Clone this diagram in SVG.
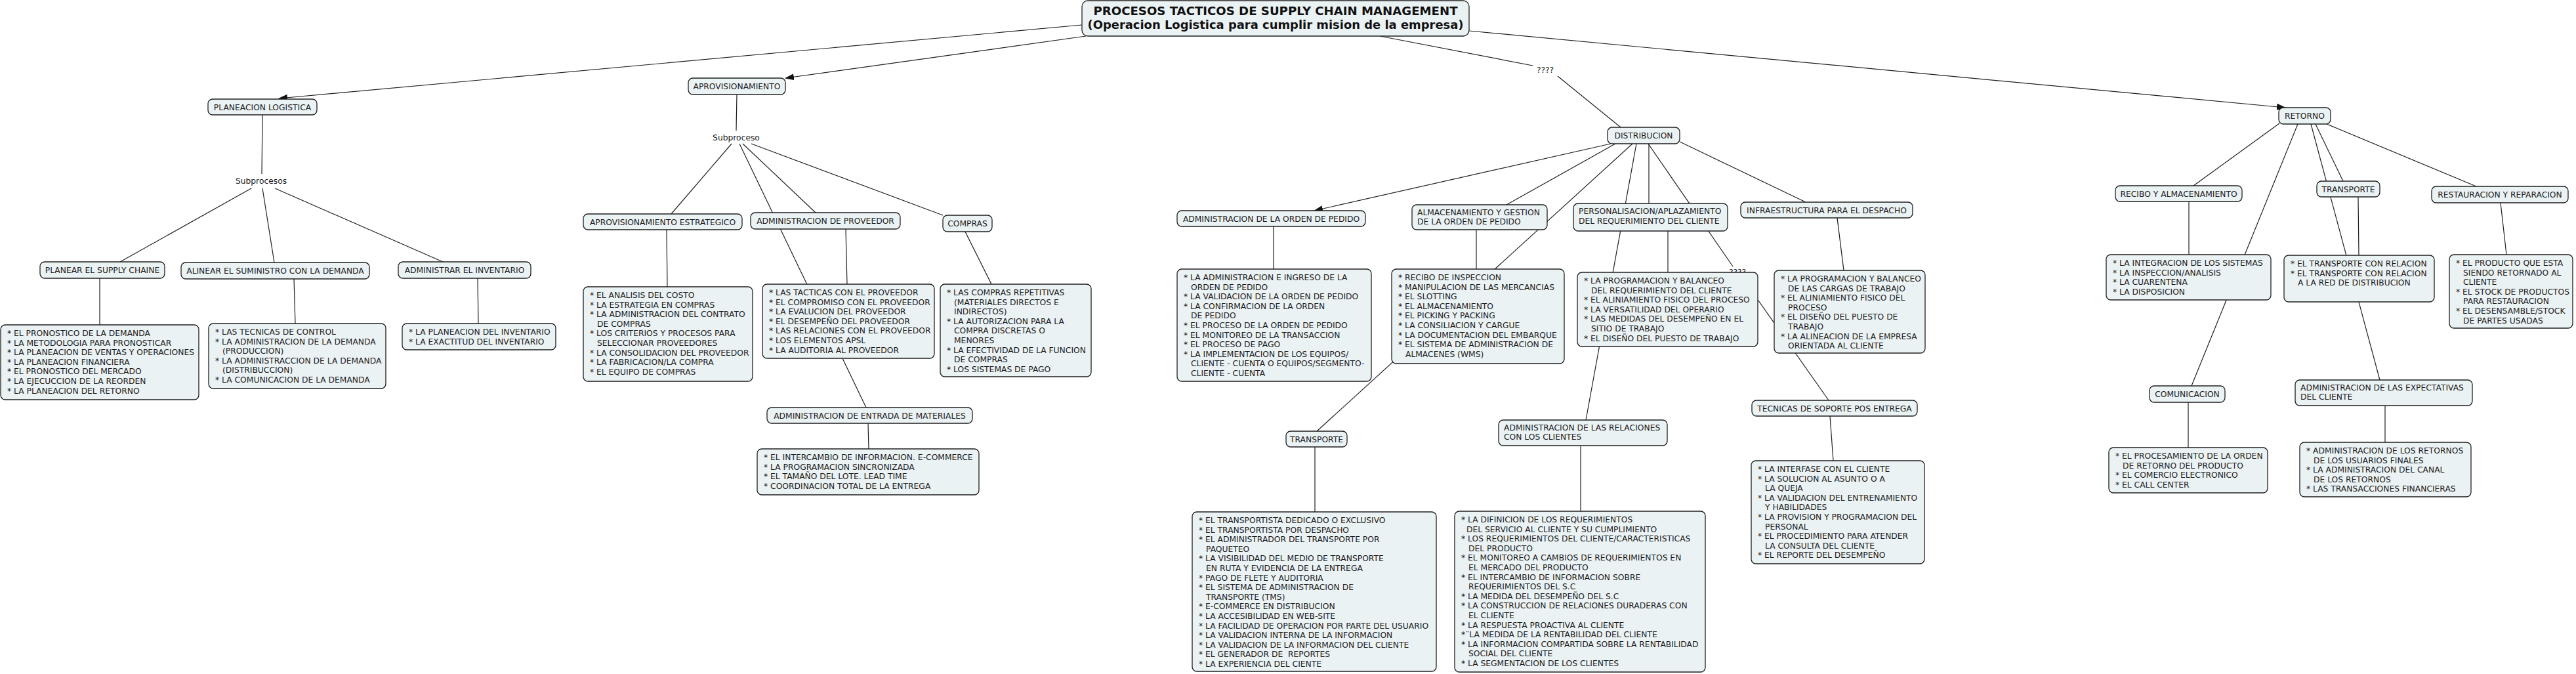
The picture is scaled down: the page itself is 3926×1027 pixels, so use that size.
<svg xmlns="http://www.w3.org/2000/svg" width="3926" height="1027" viewBox="0 0 3926 1027">
<defs>
<style>
.n{fill:#ebf2f4;stroke:#1f1f1f;stroke-width:1.3}
.t{font-family:"DejaVu Sans",Verdana,sans-serif;font-size:12.3px;fill:#1b1b1b}
.c{text-anchor:middle}
.l line{stroke:#1f1f1f;stroke-width:1.2;fill:none}
.h{font-family:"DejaVu Sans",Verdana,sans-serif;font-size:17px;font-weight:bold;fill:#111;text-anchor:middle}
</style>
<marker id="ar" markerWidth="14" markerHeight="10" refX="13" refY="5" orient="auto" markerUnits="userSpaceOnUse"><path d="M0,0 L14,5 L0,10 z" fill="#111"/></marker>
</defs>
<rect width="3926" height="1027" fill="#fff"/>

<g id="connectors" class="l">
<line x1="1649" y1="38" x2="425" y2="150" marker-end="url(#ar)"/>
<line x1="1655" y1="55" x2="1197" y2="119" marker-end="url(#ar)"/>
<line x1="2103" y1="55" x2="2336" y2="100"/>
<line x1="2374" y1="116" x2="2470" y2="194"/>
<line x1="2239" y1="47" x2="3483" y2="164" marker-end="url(#ar)"/>
<line x1="400" y1="175" x2="399" y2="265"/>
<line x1="383" y1="287" x2="183" y2="399"/>
<line x1="400" y1="287" x2="418" y2="400"/>
<line x1="419" y1="287" x2="675" y2="399"/>
<line x1="152" y1="424" x2="152" y2="495"/>
<line x1="448" y1="425" x2="450" y2="493"/>
<line x1="728" y1="424" x2="729" y2="493"/>
<line x1="1123" y1="144" x2="1122" y2="199"/>
<line x1="1115" y1="219" x2="1023" y2="326"/>
<line x1="1127" y1="219" x2="1320" y2="621"/>
<line x1="1132" y1="219" x2="1243" y2="324"/>
<line x1="1145" y1="219" x2="1437" y2="328"/>
<line x1="1016" y1="350" x2="1017" y2="437"/>
<line x1="1289" y1="349" x2="1291" y2="433"/>
<line x1="1471" y1="353" x2="1511" y2="433"/>
<line x1="1323" y1="645" x2="1324" y2="684"/>
<line x1="2455" y1="219" x2="2003" y2="321" marker-end="url(#ar)"/>
<line x1="2462" y1="219" x2="2296" y2="312"/>
<line x1="2488" y1="219" x2="2007" y2="657"/>
<line x1="2494" y1="219" x2="2417" y2="640"/>
<line x1="2513" y1="219" x2="2513" y2="310"/>
<line x1="2512" y1="219" x2="2641" y2="406"/>
<line x1="2656" y1="424" x2="2787" y2="610"/>
<line x1="2560" y1="216" x2="2752" y2="308"/>
<line x1="1941" y1="345" x2="1941" y2="410"/>
<line x1="2250" y1="350" x2="2250" y2="410"/>
<line x1="2542" y1="352" x2="2542" y2="415"/>
<line x1="2800" y1="332" x2="2810" y2="412"/>
<line x1="2004" y1="681" x2="2004" y2="780"/>
<line x1="2409" y1="679" x2="2409" y2="779"/>
<line x1="2789" y1="634" x2="2794" y2="702"/>
<line x1="3474" y1="188" x2="3343" y2="283"/>
<line x1="3502" y1="189" x2="3340" y2="588"/>
<line x1="3522" y1="189" x2="3627" y2="579"/>
<line x1="3529" y1="189" x2="3571" y2="276"/>
<line x1="3546" y1="189" x2="3774" y2="284"/>
<line x1="3336" y1="307" x2="3336" y2="388"/>
<line x1="3594" y1="300" x2="3595" y2="389"/>
<line x1="3811" y1="309" x2="3820" y2="388"/>
<line x1="3335" y1="613" x2="3335" y2="682"/>
<line x1="3635" y1="618" x2="3635" y2="674"/>
</g>

<g id="labels">
<text id="lbl-subprocesos" class="t c" x="398" y="280">Subprocesos</text>
<text id="lbl-subproceso" class="t c" x="1122" y="214">Subproceso</text>
<text id="lbl-q1" class="t c" x="2355" y="111">????</text>
<text id="lbl-q2" class="t c" x="2648" y="419">????</text>
</g>

<g id="n-title"><rect class="n" x="1649" y="1" width="590" height="54" rx="9"/>
<text class="h" x="1944" y="23" textLength="555" lengthAdjust="spacingAndGlyphs">PROCESOS TACTICOS DE SUPPLY CHAIN MANAGEMENT</text>
<text class="h" x="1944" y="44" textLength="573" lengthAdjust="spacingAndGlyphs">(Operacion Logistica para cumplir mision de la empresa)</text></g>

<g id="n-planeacion"><rect class="n" x="317" y="151" width="166" height="24" rx="7"/><text class="t c" x="400" y="168">PLANEACION LOGISTICA</text></g>
<g id="n-planear"><rect class="n" x="61" y="399" width="190" height="25" rx="7"/><text class="t c" x="156" y="416">PLANEAR EL SUPPLY CHAINE</text></g>
<g id="n-alinear"><rect class="n" x="276" y="400" width="287" height="25" rx="7"/><text class="t c" x="419.5" y="417">ALINEAR EL SUMINISTRO CON LA DEMANDA</text></g>
<g id="n-administrar"><rect class="n" x="607" y="399" width="202" height="25" rx="7"/><text class="t c" x="708" y="416">ADMINISTRAR EL INVENTARIO</text></g>
<g id="n-planear-items"><rect class="n" x="1" y="495" width="302" height="114" rx="7"/><text class="t" y="512"><tspan x="11">* EL PRONOSTICO DE LA DEMANDA</tspan><tspan x="11" dy="14.6">* LA METODOLOGIA PARA PRONOSTICAR</tspan><tspan x="11" dy="14.6">* LA PLANEACION DE VENTAS Y OPERACIONES</tspan><tspan x="11" dy="14.6">* LA PLANEACION FINANCIERA</tspan><tspan x="11" dy="14.6">* EL PRONOSTICO DEL MERCADO</tspan><tspan x="11" dy="14.6">* LA EJECUCCION DE LA REORDEN</tspan><tspan x="11" dy="14.6">* LA PLANEACION DEL RETORNO</tspan></text></g>
<g id="n-alinear-items"><rect class="n" x="318" y="493" width="270" height="99" rx="7"/><text class="t" y="510"><tspan x="328">* LAS TECNICAS DE CONTROL</tspan><tspan x="328" dy="14.6">* LA ADMINISTRACION DE LA DEMANDA</tspan><tspan x="339" dy="14.6">(PRODUCCION)</tspan><tspan x="328" dy="14.6">* LA ADMINISTRACCION DE LA DEMANDA</tspan><tspan x="339" dy="14.6">(DISTRIBUCCION)</tspan><tspan x="328" dy="14.6">* LA COMUNICACION DE LA DEMANDA</tspan></text></g>
<g id="n-administrar-items"><rect class="n" x="613" y="493" width="234" height="40" rx="7"/><text class="t" y="510"><tspan x="623">* LA PLANEACION DEL INVENTARIO</tspan><tspan x="623" dy="14.6">* LA EXACTITUD DEL INVENTARIO</tspan></text></g>

<g id="n-aprovisionamiento"><rect class="n" x="1049" y="119" width="148" height="25" rx="7"/><text class="t c" x="1123" y="136">APROVISIONAMIENTO</text></g>
<g id="n-aprov-est"><rect class="n" x="889" y="326" width="242" height="24" rx="7"/><text class="t c" x="1010" y="343">APROVISIONAMIENTO ESTRATEGICO</text></g>
<g id="n-admin-prov"><rect class="n" x="1144" y="324" width="228" height="25" rx="7"/><text class="t c" x="1258" y="341">ADMINISTRACION DE PROVEEDOR</text></g>
<g id="n-compras"><rect class="n" x="1437" y="328" width="75" height="25" rx="7"/><text class="t c" x="1474.5" y="345">COMPRAS</text></g>
<g id="n-aprov-est-items"><rect class="n" x="889" y="437" width="258" height="144" rx="7"/><text class="t" y="454"><tspan x="899">* EL ANALISIS DEL COSTO</tspan><tspan x="899" dy="14.6">* LA ESTRATEGIA EN COMPRAS</tspan><tspan x="899" dy="14.6">* LA ADMINISTRACION DEL CONTRATO</tspan><tspan x="910" dy="14.6">DE COMPRAS</tspan><tspan x="899" dy="14.6">* LOS CRITERIOS Y PROCESOS PARA</tspan><tspan x="910" dy="14.6">SELECCIONAR PROVEEDORES</tspan><tspan x="899" dy="14.6">* LA CONSOLIDACION DEL PROVEEDOR</tspan><tspan x="899" dy="14.6">* LA FABRICACION/LA COMPRA</tspan><tspan x="899" dy="14.6">* EL EQUIPO DE COMPRAS</tspan></text></g>
<g id="n-admin-prov-items"><rect class="n" x="1162" y="433" width="262" height="113" rx="7"/><text class="t" y="450"><tspan x="1172">* LAS TACTICAS CON EL PROVEEDOR</tspan><tspan x="1172" dy="14.6">* EL COMPROMISO CON EL PROVEEDOR</tspan><tspan x="1172" dy="14.6">* LA EVALUCION DEL PROVEEDOR</tspan><tspan x="1172" dy="14.6">* EL DESEMPEÑO DEL PROVEEDOR</tspan><tspan x="1172" dy="14.6">* LAS RELACIONES CON EL PROVEEDOR</tspan><tspan x="1172" dy="14.6">* LOS ELEMENTOS APSL</tspan><tspan x="1172" dy="14.6">* LA AUDITORIA AL PROVEEDOR</tspan></text></g>
<g id="n-compras-items"><rect class="n" x="1433" y="433" width="230" height="141" rx="7"/><text class="t" y="450"><tspan x="1443">* LAS COMPRAS REPETITIVAS</tspan><tspan x="1454" dy="14.6">(MATERIALES DIRECTOS E</tspan><tspan x="1454" dy="14.6">INDIRECTOS)</tspan><tspan x="1443" dy="14.6">* LA AUTORIZACION PARA LA</tspan><tspan x="1454" dy="14.6">COMPRA DISCRETAS O</tspan><tspan x="1454" dy="14.6">MENORES</tspan><tspan x="1443" dy="14.6">* LA EFECTIVIDAD DE LA FUNCION</tspan><tspan x="1454" dy="14.6">DE COMPRAS</tspan><tspan x="1443" dy="14.6">* LOS SISTEMAS DE PAGO</tspan></text></g>
<g id="n-entrada"><rect class="n" x="1169" y="621" width="313" height="24" rx="7"/><text class="t c" x="1325.5" y="638">ADMINISTRACION DE ENTRADA DE MATERIALES</text></g>
<g id="n-entrada-items"><rect class="n" x="1154" y="684" width="338" height="70" rx="7"/><text class="t" y="701"><tspan x="1164">* EL INTERCAMBIO DE INFORMACION. E-COMMERCE</tspan><tspan x="1164" dy="14.6">* LA PROGRAMACION SINCRONIZADA</tspan><tspan x="1164" dy="14.6">* EL TAMAÑO DEL LOTE. LEAD TIME</tspan><tspan x="1164" dy="14.6">* COORDINACION TOTAL DE LA ENTREGA</tspan></text></g>

<g id="n-distribucion"><rect class="n" x="2450" y="194" width="110" height="25" rx="7"/><text class="t c" x="2505" y="211">DISTRIBUCION</text></g>
<g id="n-admin-orden"><rect class="n" x="1794" y="321" width="287" height="24" rx="7"/><text class="t c" x="1937.5" y="338">ADMINISTRACION DE LA ORDEN DE PEDIDO</text></g>
<g id="n-almacen"><rect class="n" x="2152" y="312" width="206" height="38" rx="7"/><text class="t" x="2160" y="328">ALMACENAMIENTO Y GESTION<tspan x="2160" dy="14.3">DE LA ORDEN DE PEDIDO</tspan></text></g>
<g id="n-personal"><rect class="n" x="2398" y="310" width="235" height="42" rx="7"/><text class="t" x="2406" y="326">PERSONALISACION/APLAZAMIENTO<tspan x="2406" dy="14.6">DEL REQUERIMIENTO DEL CLIENTE</tspan></text></g>
<g id="n-infra"><rect class="n" x="2653" y="308" width="262" height="24" rx="7"/><text class="t c" x="2784" y="325">INFRAESTRUCTURA PARA EL DESPACHO</text></g>
<g id="n-orden-items"><rect class="n" x="1794" y="410" width="296" height="171" rx="7"/><text class="t" y="427"><tspan x="1804">* LA ADMINISTRACION E INGRESO DE LA</tspan><tspan x="1815" dy="14.6">ORDEN DE PEDIDO</tspan><tspan x="1804" dy="14.6">* LA VALIDACION DE LA ORDEN DE PEDIDO</tspan><tspan x="1804" dy="14.6">* LA CONFIRMACION DE LA ORDEN</tspan><tspan x="1815" dy="14.6">DE PEDIDO</tspan><tspan x="1804" dy="14.6">* EL PROCESO DE LA ORDEN DE PEDIDO</tspan><tspan x="1804" dy="14.6">* EL MONITOREO DE LA TRANSACCION</tspan><tspan x="1804" dy="14.6">* EL PROCESO DE PAGO</tspan><tspan x="1804" dy="14.6">* LA IMPLEMENTACION DE LOS EQUIPOS/</tspan><tspan x="1815" dy="14.6">CLIENTE - CUENTA O EQUIPOS/SEGMENTO-</tspan><tspan x="1815" dy="14.6">CLIENTE - CUENTA</tspan></text></g>
<g id="n-recibo-items"><rect class="n" x="2121" y="410" width="263" height="144" rx="7"/><text class="t" y="427"><tspan x="2131">* RECIBO DE INSPECCION</tspan><tspan x="2131" dy="14.6">* MANIPULACION DE LAS MERCANCIAS</tspan><tspan x="2131" dy="14.6">* EL SLOTTING</tspan><tspan x="2131" dy="14.6">* EL ALMACENAMIENTO</tspan><tspan x="2131" dy="14.6">* EL PICKING Y PACKING</tspan><tspan x="2131" dy="14.6">* LA CONSILIACION Y CARGUE</tspan><tspan x="2131" dy="14.6">* LA DOCUMENTACION DEL EMBARQUE</tspan><tspan x="2131" dy="14.6">* EL SISTEMA DE ADMINISTRACION DE</tspan><tspan x="2142" dy="14.6">ALMACENES (WMS)</tspan></text></g>
<g id="n-personal-items"><rect class="n" x="2404" y="415" width="275" height="113" rx="7"/><text class="t" y="432"><tspan x="2414">* LA PROGRAMACION Y BALANCEO</tspan><tspan x="2425" dy="14.6">DEL REQUERIMIENTO DEL CLIENTE</tspan><tspan x="2414" dy="14.6">* EL ALINIAMIENTO FISICO DEL PROCESO</tspan><tspan x="2414" dy="14.6">* LA VERSATILIDAD DEL OPERARIO</tspan><tspan x="2414" dy="14.6">* LAS MEDIDAS DEL DESEMPEÑO EN EL</tspan><tspan x="2425" dy="14.6">SITIO DE TRABAJO</tspan><tspan x="2414" dy="14.6">* EL DISEÑO DEL PUESTO DE TRABAJO</tspan></text></g>
<g id="n-infra-items"><rect class="n" x="2704" y="412" width="230" height="126" rx="7"/><text class="t" y="429"><tspan x="2714">* LA PROGRAMACION Y BALANCEO</tspan><tspan x="2725" dy="14.6">DE LAS CARGAS DE TRABAJO</tspan><tspan x="2714" dy="14.6">* EL ALINIAMIENTO FISICO DEL</tspan><tspan x="2725" dy="14.6">PROCESO</tspan><tspan x="2714" dy="14.6">* EL DISEÑO DEL PUESTO DE</tspan><tspan x="2725" dy="14.6">TRABAJO</tspan><tspan x="2714" dy="14.6">* LA ALINEACION DE LA EMPRESA</tspan><tspan x="2725" dy="14.6">ORIENTADA AL CLIENTE</tspan></text></g>
<g id="n-transporte-d"><rect class="n" x="1960" y="657" width="93" height="24" rx="7"/><text class="t c" x="2006.5" y="674">TRANSPORTE</text></g>
<g id="n-admin-rel"><rect class="n" x="2284" y="640" width="257" height="39" rx="7"/><text class="t" x="2292" y="656">ADMINISTRACION DE LAS RELACIONES<tspan x="2292" dy="14.3">CON LOS CLIENTES</tspan></text></g>
<g id="n-tecnicas"><rect class="n" x="2670" y="610" width="252" height="24" rx="7"/><text class="t c" x="2796" y="627">TECNICAS DE SOPORTE POS ENTREGA</text></g>
<g id="n-transporte-d-items"><rect class="n" x="1817" y="780" width="372" height="243" rx="7"/><text class="t" y="797"><tspan x="1827">* EL TRANSPORTISTA DEDICADO O EXCLUSIVO</tspan><tspan x="1827" dy="14.6">* EL TRANSPORTISTA POR DESPACHO</tspan><tspan x="1827" dy="14.6">* EL ADMINISTRADOR DEL TRANSPORTE POR</tspan><tspan x="1838" dy="14.6">PAQUETEO</tspan><tspan x="1827" dy="14.6">* LA VISIBILIDAD DEL MEDIO DE TRANSPORTE</tspan><tspan x="1838" dy="14.6">EN RUTA Y EVIDENCIA DE LA ENTREGA</tspan><tspan x="1827" dy="14.6">* PAGO DE FLETE Y AUDITORIA</tspan><tspan x="1827" dy="14.6">* EL SISTEMA DE ADMINISTRACION DE</tspan><tspan x="1838" dy="14.6">TRANSPORTE (TMS)</tspan><tspan x="1827" dy="14.6">* E-COMMERCE EN DISTRIBUCION</tspan><tspan x="1827" dy="14.6">* LA ACCESIBILIDAD EN WEB-SITE</tspan><tspan x="1827" dy="14.6">* LA FACILIDAD DE OPERACION POR PARTE DEL USUARIO</tspan><tspan x="1827" dy="14.6">* LA VALIDACION INTERNA DE LA INFORMACION</tspan><tspan x="1827" dy="14.6">* LA VALIDACION DE LA INFORMACION DEL CLIENTE</tspan><tspan x="1827" dy="14.6">* EL GENERADOR DE&#160; REPORTES</tspan><tspan x="1827" dy="14.6">* LA EXPERIENCIA DEL CIENTE</tspan></text></g>
<g id="n-admin-rel-items"><rect class="n" x="2217" y="779" width="382" height="245" rx="7"/><text class="t" y="796"><tspan x="2227">* LA DIFINICION DE LOS REQUERIMIENTOS</tspan><tspan x="2235" dy="14.6">DEL SERVICIO AL CLIENTE Y SU CUMPLIMIENTO</tspan><tspan x="2227" dy="14.6">* LOS REQUERIMIENTOS DEL CLIENTE/CARACTERISTICAS</tspan><tspan x="2238" dy="14.6">DEL PRODUCTO</tspan><tspan x="2227" dy="14.6">* EL MONITOREO A CAMBIOS DE REQUERIMIENTOS EN</tspan><tspan x="2238" dy="14.6">EL MERCADO DEL PRODUCTO</tspan><tspan x="2227" dy="14.6">* EL INTERCAMBIO DE INFORMACION SOBRE</tspan><tspan x="2238" dy="14.6">REQUERIMIENTOS DEL S.C</tspan><tspan x="2227" dy="14.6">* LA MEDIDA DEL DESEMPEÑO DEL S.C</tspan><tspan x="2227" dy="14.6">* LA CONSTRUCCION DE RELACIONES DURADERAS CON</tspan><tspan x="2238" dy="14.6">EL CLIENTE</tspan><tspan x="2227" dy="14.6">* LA RESPUESTA PROACTIVA AL CLIENTE</tspan><tspan x="2227" dy="14.6">*¨LA MEDIDA DE LA RENTABILIDAD DEL CLIENTE</tspan><tspan x="2227" dy="14.6">* LA INFORMACION COMPARTIDA SOBRE LA RENTABILIDAD</tspan><tspan x="2238" dy="14.6">SOCIAL DEL CLIENTE</tspan><tspan x="2227" dy="14.6">* LA SEGMENTACION DE LOS CLIENTES</tspan></text></g>
<g id="n-tecnicas-items"><rect class="n" x="2669" y="702" width="264" height="157" rx="7"/><text class="t" y="719"><tspan x="2679">* LA INTERFASE CON EL CLIENTE</tspan><tspan x="2679" dy="14.6">* LA SOLUCION AL ASUNTO O A</tspan><tspan x="2690" dy="14.6">LA QUEJA</tspan><tspan x="2679" dy="14.6">* LA VALIDACION DEL ENTRENAMIENTO</tspan><tspan x="2690" dy="14.6">Y HABILIDADES</tspan><tspan x="2679" dy="14.6">* LA PROVISION Y PROGRAMACION DEL</tspan><tspan x="2690" dy="14.6">PERSONAL</tspan><tspan x="2679" dy="14.6">* EL PROCEDIMIENTO PARA ATENDER</tspan><tspan x="2690" dy="14.6">LA CONSULTA DEL CLIENTE</tspan><tspan x="2679" dy="14.6">* EL REPORTE DEL DESEMPEÑO</tspan></text></g>

<g id="n-retorno"><rect class="n" x="3473" y="164" width="79" height="25" rx="7"/><text class="t c" x="3512.5" y="181">RETORNO</text></g>
<g id="n-recibo-r"><rect class="n" x="3224" y="283" width="193" height="24" rx="7"/><text class="t c" x="3320.5" y="300">RECIBO Y ALMACENAMIENTO</text></g>
<g id="n-transporte-r"><rect class="n" x="3531" y="276" width="96" height="24" rx="7"/><text class="t c" x="3579" y="293">TRANSPORTE</text></g>
<g id="n-restauracion"><rect class="n" x="3706" y="284" width="208" height="25" rx="7"/><text class="t c" x="3810" y="301">RESTAURACION Y REPARACION</text></g>
<g id="n-recibo-r-items"><rect class="n" x="3210" y="388" width="251" height="69" rx="7"/><text class="t" y="405"><tspan x="3220">* LA INTEGRACION DE LOS SISTEMAS</tspan><tspan x="3220" dy="14.6">* LA INSPECCION/ANALISIS</tspan><tspan x="3220" dy="14.6">* LA CUARENTENA</tspan><tspan x="3220" dy="14.6">* LA DISPOSICION</tspan></text></g>
<g id="n-transporte-r-items"><rect class="n" x="3481" y="389" width="229" height="71" rx="7"/><text class="t" y="406"><tspan x="3491">* EL TRANSPORTE CON RELACION</tspan><tspan x="3491" dy="14.6">* EL TRANSPORTE CON RELACION</tspan><tspan x="3502" dy="14.6">A LA RED DE DISTRIBUCION</tspan></text></g>
<g id="n-restauracion-items"><rect class="n" x="3733" y="388" width="188" height="112" rx="7"/><text class="t" y="405"><tspan x="3743">* EL PRODUCTO QUE ESTA</tspan><tspan x="3754" dy="14.6">SIENDO RETORNADO AL</tspan><tspan x="3754" dy="14.6">CLIENTE</tspan><tspan x="3743" dy="14.6">* EL STOCK DE PRODUCTOS</tspan><tspan x="3754" dy="14.6">PARA RESTAURACION</tspan><tspan x="3743" dy="14.6">* EL DESENSAMBLE/STOCK</tspan><tspan x="3754" dy="14.6">DE PARTES USADAS</tspan></text></g>
<g id="n-comunicacion"><rect class="n" x="3276" y="588" width="115" height="25" rx="7"/><text class="t c" x="3333.5" y="605">COMUNICACION</text></g>
<g id="n-admin-exp"><rect class="n" x="3498" y="579" width="270" height="39" rx="7"/><text class="t" x="3506" y="595">ADMINISTRACION DE LAS EXPECTATIVAS<tspan x="3506" dy="14.3">DEL CLIENTE</tspan></text></g>
<g id="n-comunicacion-items"><rect class="n" x="3214" y="682" width="242" height="69" rx="7"/><text class="t" y="699"><tspan x="3224">* EL PROCESAMIENTO DE LA ORDEN</tspan><tspan x="3235" dy="14.6">DE RETORNO DEL PRODUCTO</tspan><tspan x="3224" dy="14.6">* EL COMERCIO ELECTRONICO</tspan><tspan x="3224" dy="14.6">* EL CALL CENTER</tspan></text></g>
<g id="n-admin-exp-items"><rect class="n" x="3505" y="674" width="261" height="83" rx="7"/><text class="t" y="691"><tspan x="3515">* ADMINISTRACION DE LOS RETORNOS</tspan><tspan x="3526" dy="14.6">DE LOS USUARIOS FINALES</tspan><tspan x="3515" dy="14.6">* LA ADMINISTRACION DEL CANAL</tspan><tspan x="3526" dy="14.6">DE LOS RETORNOS</tspan><tspan x="3515" dy="14.6">* LAS TRANSACCIONES FINANCIERAS</tspan></text></g>
</svg>
